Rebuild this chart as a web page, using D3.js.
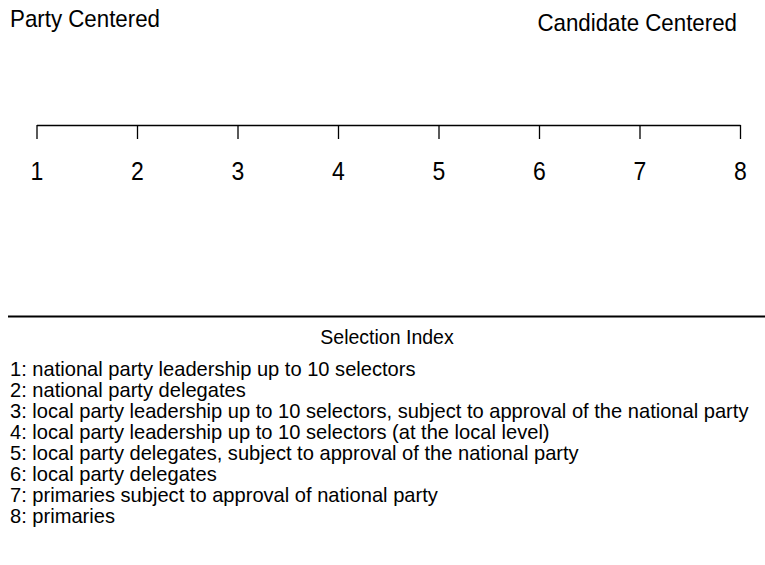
<!DOCTYPE html>
<html>
<head>
<meta charset="utf-8">
<script src="https://cdn.jsdelivr.net/npm/d3@7"></script>
<style>
  body { margin: 0; background: #fff; }
  svg text { font-family: 'Liberation Sans', Arial, sans-serif; fill: #000; }
</style>
</head>
<body>
<div id="chart"></div>
<script>
const WIDTH = 765;
const HEIGHT = 565;

// selection index scale 1..8
const indexTicks = [1, 2, 3, 4, 5, 6, 7, 8];
const leftLabel = 'Party Centered';
const rightLabel = 'Candidate Centered';
const axisTitle = 'Selection Index';
const legendItems = [
  '1: national party leadership up to 10 selectors',
  '2: national party delegates',
  '3: local party leadership up to 10 selectors, subject to approval of the national party',
  '4: local party leadership up to 10 selectors (at the local level)',
  '5: local party delegates, subject to approval of the national party',
  '6: local party delegates',
  '7: primaries subject to approval of national party',
  '8: primaries'
];

// the reference font is a bit condensed, squeeze glyphs horizontally
const placeText = (sel, x, y, sx) =>
  sel.attr('transform', 'translate(' + x + ',' + y + ') scale(' + sx + ',1)');

const svg = d3
  .select('#chart')
  .append('svg')
  .attr('width', WIDTH)
  .attr('height', HEIGHT);

const x = d3.scaleLinear().domain([1, 8]).range([36.5, 740]);

// end labels
svg.append('text')
  .call(placeText, 10, 27, 0.93)
  .style('font-size', '24px')
  .text(leftLabel);

svg.append('text')
  .call(placeText, 737, 31, 0.93)
  .style('text-anchor', 'end')
  .style('font-size', '24px')
  .text(rightLabel);

// the axis itself, ticks hanging down from the line
const axis = svg.append('g')
  .attr('class', 'x axis')
  .attr('transform', 'translate(0,125)')
  .call(d3.axisBottom(x).tickValues(indexTicks).tickSizeInner(14).tickSizeOuter(0).tickFormat(d3.format('d')));

axis.select('.domain').attr('stroke', '#000').attr('stroke-width', 1.3);
axis.selectAll('.tick line').attr('stroke', '#000').attr('stroke-width', 1.3);
axis.selectAll('.tick text')
  .attr('y', null)
  .attr('dy', null)
  .call(placeText, 0, 55, 0.92)
  .attr('fill', '#000')
  .style('font-size', '25px')
  .style('font-family', "'Liberation Sans', Arial, sans-serif");

// separator line
svg.append('line')
  .attr('x1', 8)
  .attr('x2', WIDTH)
  .attr('y1', 316.5)
  .attr('y2', 316.5)
  .attr('stroke', '#000')
  .attr('stroke-width', 2);

svg.append('text')
  .call(placeText, 387, 344, 0.93)
  .style('text-anchor', 'middle')
  .style('font-size', '21px')
  .text(axisTitle);

// legend of index levels
svg.selectAll('text.item')
  .data(legendItems)
  .join('text')
  .classed('item', true)
  .each(function (d, i) {
    d3.select(this).call(placeText, 10, 376 + i * 21, 1.005);
  })
  .style('font-size', '20px')
  .text((d) => d);
</script>
</body>
</html>
